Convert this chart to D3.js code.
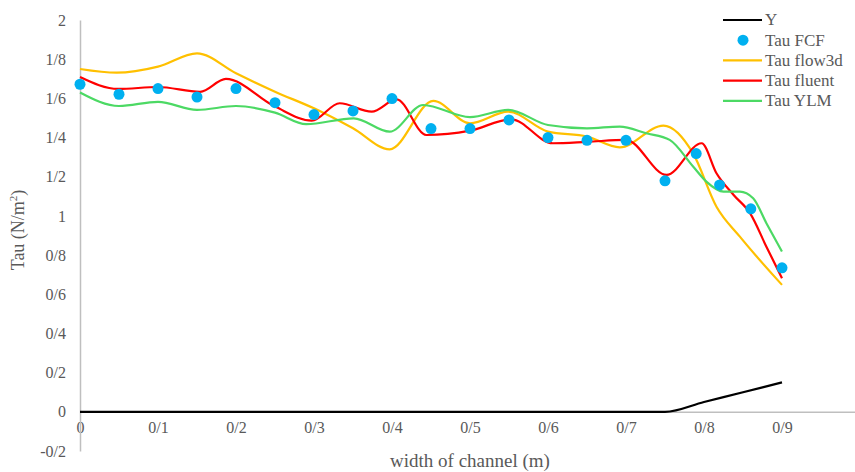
<!DOCTYPE html>
<html>
<head>
<meta charset="utf-8">
<script src="https://cdn.jsdelivr.net/npm/d3@7"></script>
<style>
  body { margin: 0; background: #fff; }
  .axis text { font-family: "Liberation Serif", "Times New Roman", serif; fill: #595959; }
  .axis path { stroke: #BFBFBF; }
</style>
</head>
<body>
<div id="div1"></div>
<script>
// data
var yTicks = [-0.2, 0, 0.2, 0.4, 0.6, 0.8, 1, 1.2, 1.4, 1.6, 1.8, 2];
var xTicks = [0, 0.1, 0.2, 0.3, 0.4, 0.5, 0.6, 0.7, 0.8, 0.9];

var yX = [0, 0.1, 0.2, 0.3, 0.4, 0.5, 0.6, 0.7, 0.75, 0.8, 0.85, 0.9];
var yVals = [0, 0, 0, 0, 0, 0, 0, 0, 0, 0.05, 0.1, 0.15];

var fcfX = [0, 0.05, 0.1, 0.15, 0.2, 0.25, 0.3, 0.35, 0.4, 0.45, 0.5, 0.55, 0.6, 0.65, 0.7, 0.75, 0.79, 0.82, 0.86, 0.9];
var fcfVals = [1.672, 1.621, 1.65, 1.607, 1.65, 1.578, 1.517, 1.536, 1.599, 1.446, 1.446, 1.49, 1.40, 1.386, 1.386, 1.179, 1.318, 1.158, 1.036, 0.735];

var flow3dX = [0, 0.047, 0.1, 0.15, 0.2, 0.25, 0.3, 0.35, 0.397, 0.453, 0.5, 0.549, 0.6, 0.65, 0.692, 0.748, 0.786, 0.816, 0.846, 0.9];
var flow3dVals = [1.75, 1.731, 1.762, 1.83, 1.728, 1.634, 1.549, 1.447, 1.34, 1.587, 1.473, 1.532, 1.43, 1.405, 1.35, 1.461, 1.319, 1.047, 0.894, 0.648];

var fluentX = [0, 0.049, 0.1, 0.154, 0.187, 0.25, 0.297, 0.333, 0.374, 0.406, 0.444, 0.5, 0.553, 0.606, 0.65, 0.7, 0.752, 0.797, 0.816, 0.838, 0.859, 0.88, 0.9];
var fluentVals = [1.709, 1.648, 1.658, 1.633, 1.699, 1.558, 1.486, 1.575, 1.532, 1.595, 1.413, 1.435, 1.493, 1.371, 1.378, 1.388, 1.209, 1.371, 1.218, 1.107, 1.014, 0.843, 0.682];

var ylmX = [0, 0.05, 0.1, 0.15, 0.2, 0.25, 0.29, 0.351, 0.397, 0.44, 0.5, 0.549, 0.6, 0.65, 0.692, 0.726, 0.756, 0.786, 0.803, 0.825, 0.846, 0.863, 0.88, 0.9];
var ylmVals = [1.63, 1.561, 1.582, 1.541, 1.561, 1.527, 1.468, 1.498, 1.43, 1.566, 1.504, 1.541, 1.464, 1.447, 1.456, 1.422, 1.388, 1.252, 1.175, 1.124, 1.124, 1.09, 0.963, 0.818];

var legendNames = ['Y', 'Tau FCF', 'Tau flow3d', 'Tau fluent', 'Tau YLM'];
var colors = ['#000000', '#00B0F0', '#FFC000', '#FF0000', '#4CD964'];

var global_width = 855,
    global_height = 472;

var svg = d3.select("div#div1")
            .append("svg")
            .attr('width', global_width)
            .attr('height', global_height);

//Scales
var xScale = d3.scaleLinear().domain([0, 1]).range([80, 860]),
    yScale = d3.scaleLinear().domain([-0.2, 2]).range([451, 20]);

function fmt(d) {
    return String(+d.toFixed(1)).replace('.', '/');
}

//Axes
svg.append('g')
   .attr('class', 'axis')
   .attr('transform', 'translate(0,' + yScale(0) + ')')
   .call(d3.axisBottom(xScale).tickValues(xTicks).tickSize(0).tickSizeOuter(0).tickPadding(10).tickFormat(fmt))
   .selectAll('text')
   .attr('font-size', '16px');

svg.append('g')
   .attr('class', 'axis')
   .attr('transform', 'translate(' + xScale(0) + ',0)')
   .call(d3.axisLeft(yScale).tickValues(yTicks).tickSize(0).tickSizeOuter(0).tickPadding(14).tickFormat(fmt))
   .selectAll('text')
   .attr('font-size', '16px');

d3.selectAll('.axis path').attr('stroke-width', 1.5);

//Axis titles
svg.append('text')
   .attr('x', 470)
   .attr('y', 467)
   .attr('text-anchor', 'middle')
   .attr('font-family', '"Liberation Serif", serif')
   .attr('font-size', '19px')
   .attr('fill', '#595959')
   .text('width of channel (m)');

var yTitle = svg.append('text')
   .attr('transform', 'translate(24,230) rotate(-90)')
   .attr('text-anchor', 'middle')
   .attr('font-family', '"Liberation Serif", serif')
   .attr('font-size', '18px')
   .attr('fill', '#595959');
yTitle.append('tspan').text('Tau (N/m');
yTitle.append('tspan').attr('font-size', '11px').attr('dy', '-7').text('2');
yTitle.append('tspan').attr('dy', '7').text(')');

//Lines
function series(xs, vs) {
    return xs.map(function(x, i){ return {x: x, v: vs[i]}; });
}

var line = d3.line()
             .x(function(d){ return xScale(d.x); })
             .y(function(d){ return yScale(d.v); })
             .curve(d3.curveMonotoneX);

var lineData = [
    [series(yX, yVals), colors[0]],
    [series(flow3dX, flow3dVals), colors[2]],
    [series(fluentX, fluentVals), colors[3]],
    [series(ylmX, ylmVals), colors[4]]
];

for (var i = 0; i < lineData.length; i++) {
    svg.append('path')
       .datum(lineData[i][0])
       .attr('fill', 'none')
       .attr('stroke', lineData[i][1])
       .attr('stroke-width', 2.2)
       .attr('d', line);
}

//FCF points
svg.append('g')
   .selectAll('circle')
   .data(series(fcfX, fcfVals))
   .enter()
   .append('circle')
   .attr('cx', function(d){ return xScale(d.x); })
   .attr('cy', function(d){ return yScale(d.v); })
   .attr('r', 5.5)
   .attr('fill', colors[1]);

//Legend
var legend = svg.append('g').attr('transform', 'translate(723,20)');

legendNames.forEach(function(name, i) {
    var row = legend.append('g').attr('transform', 'translate(0,' + (i * 20.2) + ')');
    if (i === 1) {
        row.append('circle').attr('cx', 20).attr('cy', 0).attr('r', 5.5).attr('fill', colors[i]);
    } else {
        row.append('line').attr('x1', 0).attr('x2', 39).attr('y1', 0).attr('y2', 0)
           .attr('stroke', colors[i]).attr('stroke-width', 2.2);
    }
    row.append('text')
       .attr('x', 42)
       .attr('y', 0)
       .attr('dy', '0.32em')
       .attr('font-family', '"Liberation Serif", serif')
       .attr('font-size', '17px')
       .attr('fill', '#595959')
       .text(name);
});
</script>
</body>
</html>
